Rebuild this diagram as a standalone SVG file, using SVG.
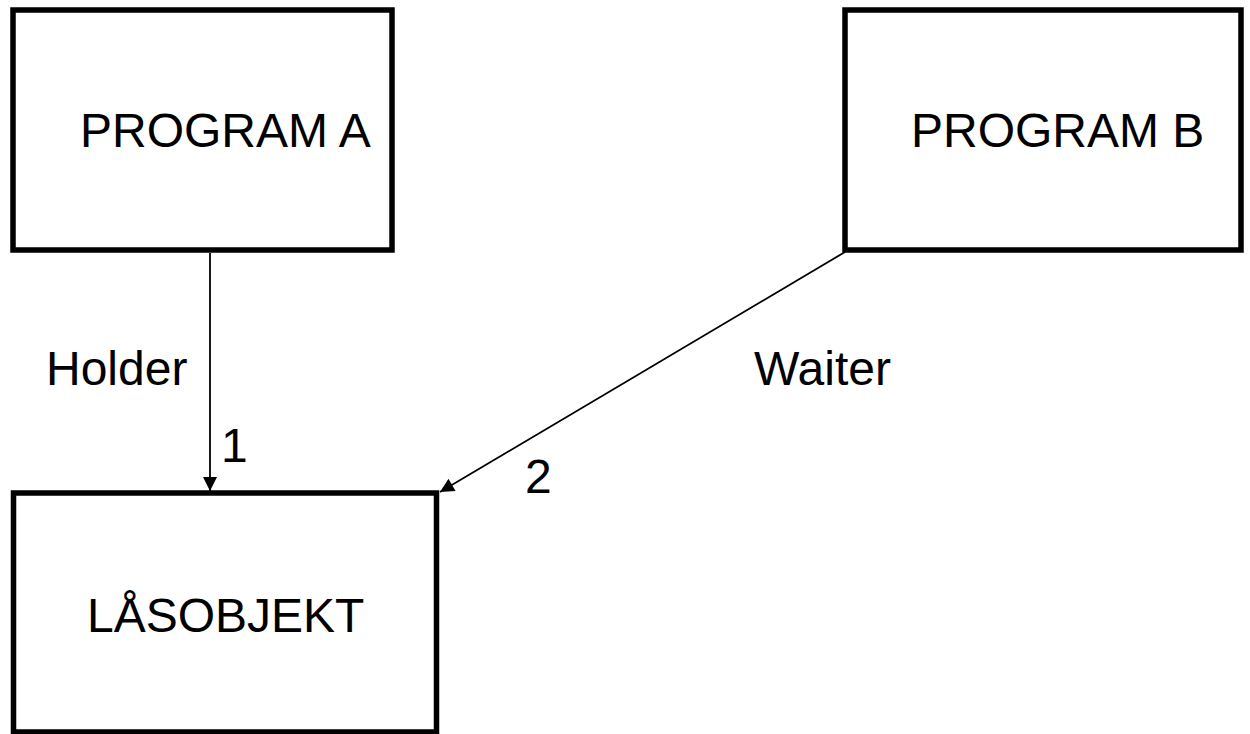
<svg xmlns="http://www.w3.org/2000/svg" width="1250" height="734" viewBox="0 0 1250 734">
<style>
.box{fill:#fff;stroke:#000;stroke-width:5.5}
.lbl{font-family:"Liberation Sans",Arial,sans-serif;font-size:48px;fill:#000}
.conn{stroke:#000;stroke-width:1.8;fill:none}
</style>
<defs>
<marker id="arrb" viewBox="0 0 10 10" refX="10" refY="5" markerWidth="16" markerHeight="14" markerUnits="userSpaceOnUse" orient="auto">
<path d="M0,0 L10,5 L0,10 z" fill="#000"/>
</marker>
</defs>
<rect width="1250" height="734" fill="#fff"/>
<g id="connectors">
<line class="conn" x1="210" y1="253" x2="210" y2="491" marker-end="url(#arrb)"/>
<line class="conn" x1="845" y1="252" x2="440" y2="492" marker-end="url(#arrb)"/>
</g>
<g id="programA">
<rect class="box" x="13" y="10" width="379" height="240"/>
<text class="lbl" x="80" y="147">PROGRAM A</text>
</g>
<g id="programB">
<rect class="box" x="845" y="10" width="396" height="240"/>
<text class="lbl" x="911" y="147">PROGRAM B</text>
</g>
<g id="lasobjekt">
<rect class="box" x="13.5" y="493" width="423" height="239"/>
<text class="lbl" x="87" y="632">LÅSOBJEKT</text>
</g>
<g id="labels">
<text class="lbl" x="46" y="385">Holder</text>
<text class="lbl" x="754" y="385">Waiter</text>
<text class="lbl" x="221" y="462">1</text>
<text class="lbl" x="525" y="493">2</text>
</g>
</svg>
